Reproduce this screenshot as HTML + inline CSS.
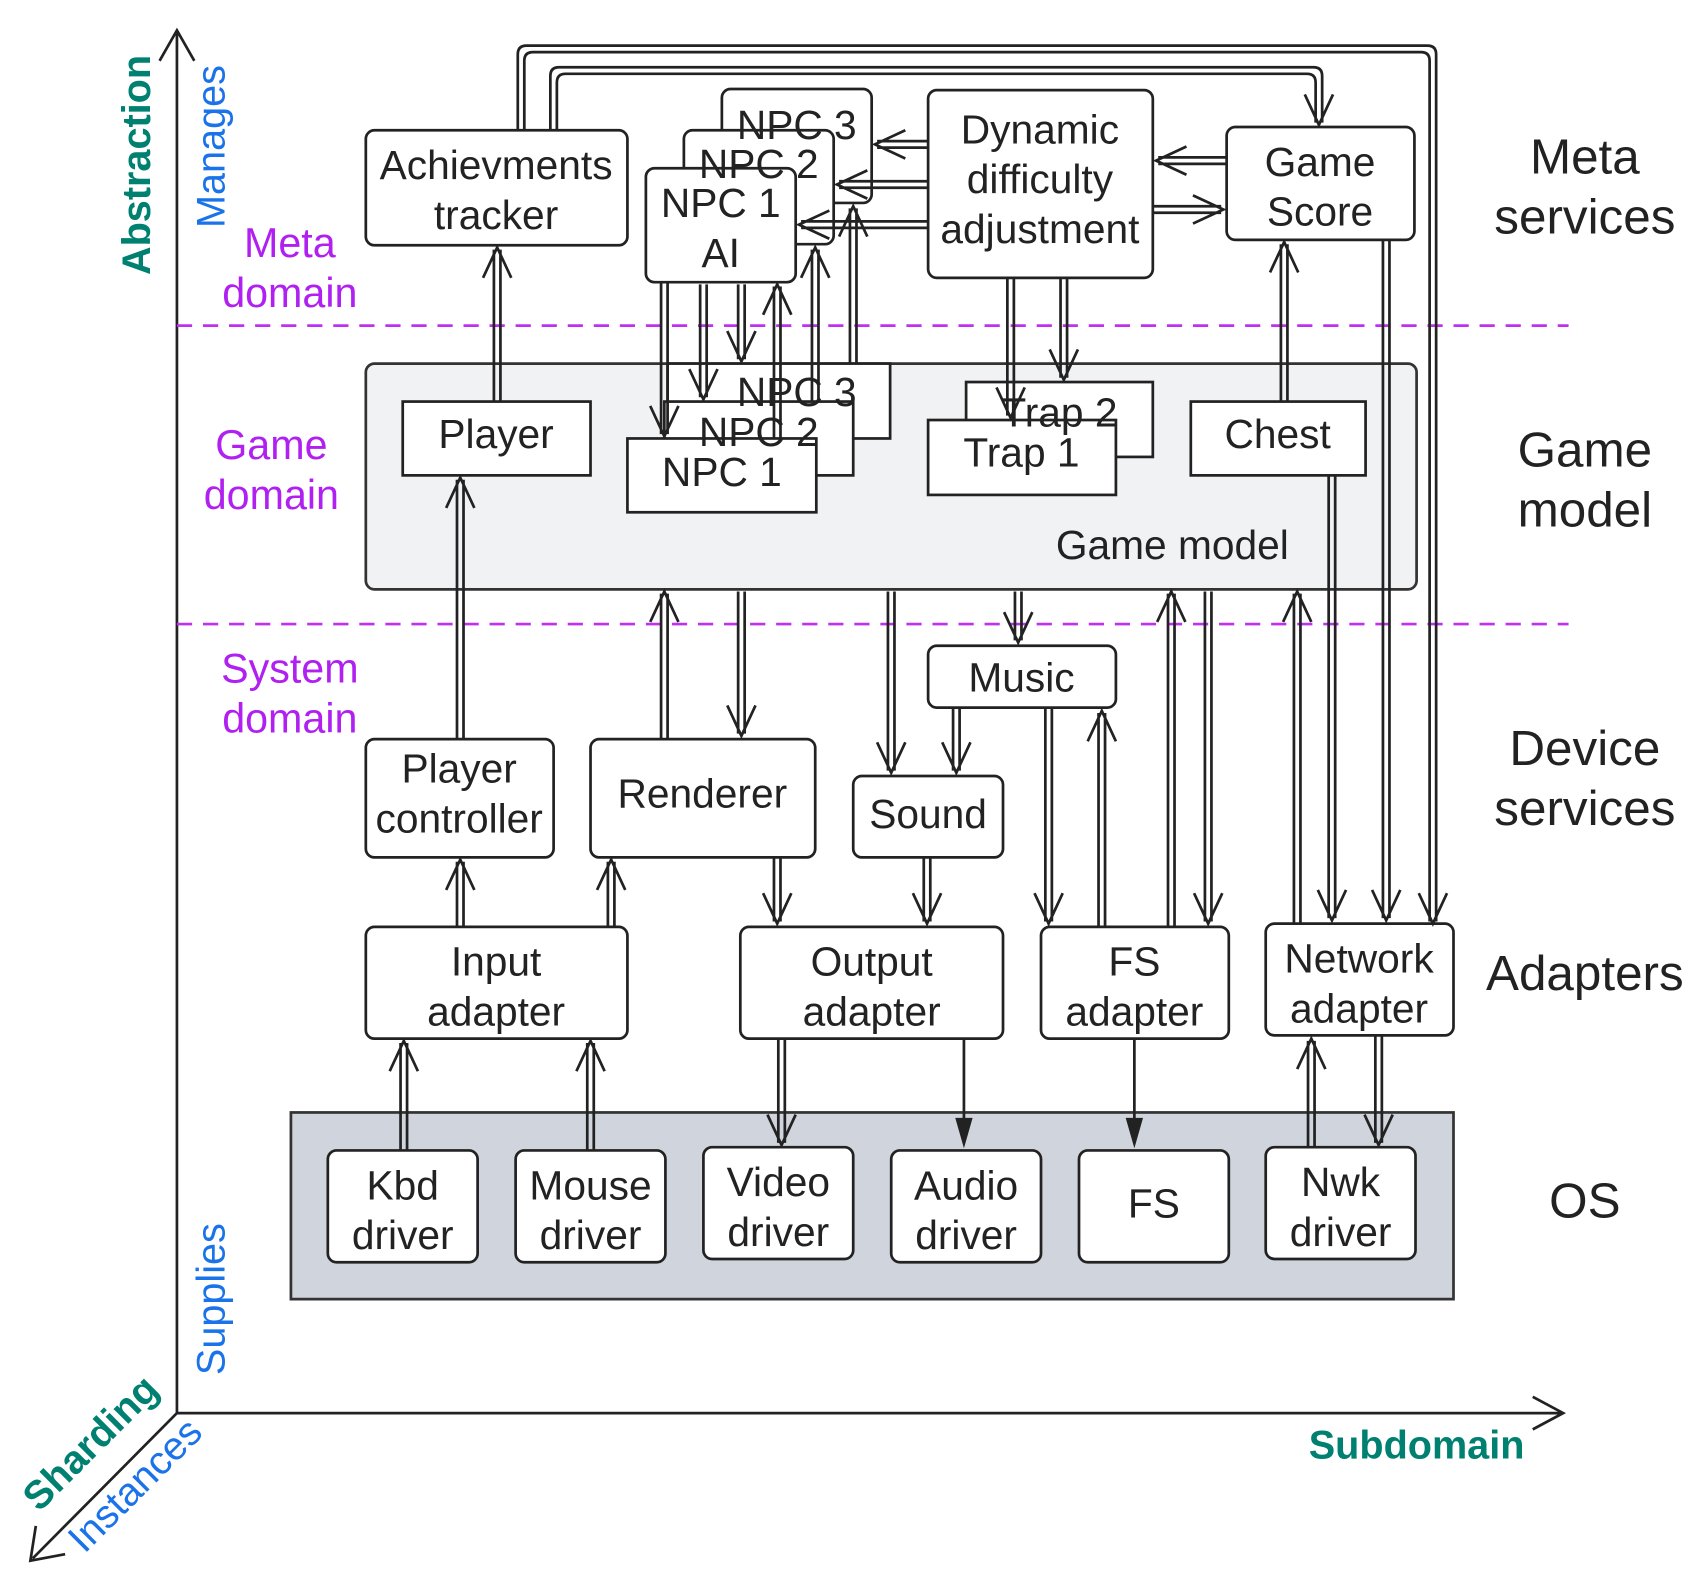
<!DOCTYPE html>
<html><head><meta charset="utf-8"><style>html,body{margin:0;padding:0;background:#fff}svg{display:block}</style></head>
<body>
<svg width="1701" height="1590" viewBox="0 0 1567 1465" preserveAspectRatio="none" xmlns="http://www.w3.org/2000/svg" font-family="Liberation Sans, sans-serif">
<g fill="none" stroke="#222" stroke-width="2.5">
<path d="M163 1302V30M147 56L163 28L179 56"/>
<path d="M163 1302H1438M1412 1287L1440 1302L1412 1317"/>
<path d="M163 1302L30 1436M33 1406L28 1438L60 1432"/>
</g>
<g stroke="#c030f0" stroke-width="2.5" stroke-dasharray="14 10"><line x1="163" y1="300" x2="1445" y2="300"/><line x1="163" y1="575" x2="1445" y2="575"/></g>
<g font-weight="bold" fill="#008070" font-size="36.5">
<text transform="translate(138,152) rotate(-90)" text-anchor="middle">Abstraction</text>
<text x="1305" y="1344" text-anchor="middle">Subdomain</text>
<text transform="translate(92,1338) rotate(-45)" text-anchor="middle">Sharding</text>
</g>
<g fill="#1a73e8" font-size="36.5">
<text transform="translate(207,135) rotate(-90)" text-anchor="middle">Manages</text>
<text transform="translate(207,1197) rotate(-90)" text-anchor="middle">Supplies</text>
<text transform="translate(133,1377) rotate(-45)" text-anchor="middle">Instances</text>
</g>
<g fill="#b020f0" font-size="38" text-anchor="middle">
<text x="267" y="237">Meta</text><text x="267" y="283">domain</text>
<text x="250" y="423">Game</text><text x="250" y="469">domain</text>
<text x="267" y="629">System</text><text x="267" y="675">domain</text>
</g>
<g fill="#222" font-size="45.5" text-anchor="middle">
<text x="1460" y="160">Meta</text><text x="1460" y="215">services</text>
<text x="1460" y="430">Game</text><text x="1460" y="485">model</text>
<text x="1460" y="705">Device</text><text x="1460" y="760">services</text>
<text x="1460" y="912">Adapters</text>
<text x="1460" y="1122">OS</text>
</g>
<g stroke="#333" stroke-width="2.5">
<rect x="337" y="335" width="968" height="208" rx="8" fill="#f1f2f4"/>
<rect x="268" y="1025" width="1071" height="172" fill="#d0d5dd"/>
</g>
<g stroke="#222" stroke-width="2.5" fill="#fff">
<rect x="337" y="120" width="241" height="106" rx="8"/>
<rect x="665" y="82" width="138" height="105" rx="8"/>
<rect x="630" y="120" width="138" height="105" rx="8"/>
<rect x="595" y="155" width="138" height="105" rx="8"/>
<rect x="855" y="83" width="207" height="173" rx="8"/>
<rect x="1130" y="117" width="173" height="104" rx="8"/>
<rect x="371" y="370" width="173" height="68"/>
<rect x="615" y="335" width="205" height="69"/>
<rect x="612" y="370" width="174" height="68"/>
<rect x="578" y="404" width="174" height="68"/>
<rect x="890" y="352" width="172" height="69"/>
<rect x="855" y="387" width="173" height="69"/>
<rect x="1097" y="370" width="161" height="68"/>
<rect x="855" y="595" width="173" height="57" rx="8"/>
<rect x="337" y="681" width="173" height="109" rx="8"/>
<rect x="544" y="681" width="207" height="109" rx="8"/>
<rect x="786" y="715" width="138" height="75" rx="8"/>
<rect x="337" y="854" width="241" height="103" rx="8"/>
<rect x="682" y="854" width="242" height="103" rx="8"/>
<rect x="959" y="854" width="173" height="103" rx="8"/>
<rect x="1166" y="851" width="173" height="103" rx="8"/>
<rect x="302" y="1060" width="138" height="103" rx="8"/>
<rect x="475" y="1060" width="138" height="103" rx="8"/>
<rect x="648" y="1057" width="138" height="103" rx="8"/>
<rect x="821" y="1060" width="138" height="103" rx="8"/>
<rect x="994" y="1060" width="138" height="103" rx="8"/>
<rect x="1166" y="1057" width="138" height="103" rx="8"/>
</g>
<g fill="#222" font-size="37.5" text-anchor="middle">
<text x="457" y="165">Achievments</text><text x="457" y="211">tracker</text>
<text x="734" y="128">NPC 3</text><text x="699" y="164">NPC 2</text>
<text x="664" y="200">NPC 1</text><text x="664" y="246">AI</text>
<text x="958" y="132">Dynamic</text><text x="958" y="178">difficulty</text><text x="958" y="224">adjustment</text>
<text x="1216" y="162">Game</text><text x="1216" y="208">Score</text>
<text x="457" y="413">Player</text>
<text x="734" y="374">NPC 3</text><text x="699" y="411">NPC 2</text><text x="665" y="448">NPC 1</text>
<text x="976" y="393">Trap 2</text><text x="941" y="430">Trap 1</text>
<text x="1177" y="413">Chest</text>
<text x="1080" y="515">Game model</text>
<text x="941" y="637">Music</text>
<text x="423" y="721">Player</text><text x="423" y="767">controller</text>
<text x="647" y="744">Renderer</text>
<text x="855" y="763">Sound</text>
<text x="457" y="899">Input</text><text x="457" y="945">adapter</text>
<text x="803" y="899">Output</text><text x="803" y="945">adapter</text>
<text x="1045" y="899">FS</text><text x="1045" y="945">adapter</text>
<text x="1252" y="896">Network</text><text x="1252" y="942">adapter</text>
<text x="371" y="1105">Kbd</text><text x="371" y="1151">driver</text>
<text x="544" y="1105">Mouse</text><text x="544" y="1151">driver</text>
<text x="717" y="1102">Video</text><text x="717" y="1148">driver</text>
<text x="890" y="1105">Audio</text><text x="890" y="1151">driver</text>
<text x="1063" y="1122">FS</text>
<text x="1235" y="1102">Nwk</text><text x="1235" y="1148">driver</text>
</g>
<g fill="none" stroke="#222" stroke-width="2.5">
<path d="M455 370V230M461 370V230M445 256L458 228L471 256"/>
<path d="M421 681V442M427 681V442M411 468L424 440L437 468"/>
<path d="M421 854V794M427 854V794M411 820L424 792L437 820"/>
<path d="M560 854V794M566 854V794M550 820L563 792L576 820"/>
<path d="M369 1060V961M375 1060V961M359 987L372 959L385 987"/>
<path d="M541 1060V961M547 1060V961M531 987L544 959L557 987"/>
<path d="M609 681V547M615 681V547M599 573L612 545L625 573"/>
<path d="M680 545V676M686 545V676M670 650L683 678L696 650"/>
<path d="M818 545V710M824 545V710M808 684L821 712L834 684"/>
<path d="M935 545V590M941 545V590M925 564L938 592L951 564"/>
<path d="M878 652V710M884 652V710M868 684L881 712L894 684"/>
<path d="M963 652V849M969 652V849M953 823L966 851L979 823"/>
<path d="M1012 854V657M1018 854V657M1002 683L1015 655L1028 683"/>
<path d="M1076 854V547M1082 854V547M1066 573L1079 545L1092 573"/>
<path d="M1110 545V849M1116 545V849M1100 823L1113 851L1126 823"/>
<path d="M1192 851V547M1198 851V547M1182 573L1195 545L1208 573"/>
<path d="M1224 438V846M1230 438V846M1214 820L1227 848L1240 820"/>
<path d="M1274 221V846M1280 221V846M1264 820L1277 848L1290 820"/>
<path d="M713 790V849M719 790V849M703 823L716 851L729 823"/>
<path d="M851 790V849M857 790V849M841 823L854 851L867 823"/>
<path d="M717 957V1053M723 957V1053M707 1027L720 1055L733 1027"/>
<path d="M1205 1057V959M1211 1057V959M1195 985L1208 957L1221 985"/>
<path d="M1267 954V1053M1273 954V1053M1257 1027L1270 1055L1283 1027"/>
<path d="M1180 370V225M1186 370V225M1170 251L1183 223L1196 251"/>
<path d="M928 256V383M934 256V383M918 357L931 385L944 357"/>
<path d="M977 256V348M983 256V348M967 322L980 350L993 322"/>
<path d="M609 260V400M615 260V400M599 374L612 402L625 374"/>
<path d="M645 262V366M651 262V366M635 340L648 368L661 340"/>
<path d="M680 262V331M686 262V331M670 305L683 333L696 305"/>
<path d="M713 404V264M719 404V264M703 290L716 262L729 290"/>
<path d="M748 370V230M754 370V230M738 256L751 228L764 256"/>
<path d="M783 335V192M789 335V192M773 218L786 190L799 218"/>
<path d="M1130 145H1067M1130 151H1067M1093 135L1065 148L1093 161"/>
<path d="M1062 190H1125M1062 196H1125M1099 180L1127 193L1099 206"/>
<path d="M855 130H808M855 136H808M834 120L806 133L834 146"/>
<path d="M855 167H773M855 173H773M799 157L771 170L799 183"/>
<path d="M855 204H738M855 210H738M764 194L736 207L764 220"/>
<path d="M477 120V50Q477 42 485 42H1315Q1323 42 1323 50V849M483 120V56Q483 48 491 48H1309Q1317 48 1317 56V849M1307 823L1320 851L1333 823"/>
<path d="M507 120V70Q507 62 515 62H1210Q1218 62 1218 70V113M513 120V76Q513 68 521 68H1204Q1212 68 1212 76V113M1202 87L1215 115L1228 87"/>
<path d="M888 957V1035M1045 957V1035"/>
</g>
<path d="M880 1030H896L888 1058ZM1037 1030H1053L1045 1058Z" fill="#222"/>
</svg>
</body></html>
